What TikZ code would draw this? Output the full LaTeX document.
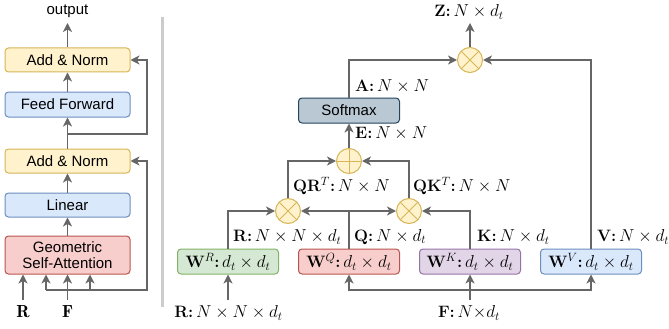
\documentclass[tikz,border=0pt]{standalone}
\usepackage{fontspec}
\setsansfont{Liberation Sans}
\usetikzlibrary{arrows.meta}
\definecolor{lgray}{HTML}{666666}
\definecolor{yfill}{HTML}{FFF2CC}\definecolor{ydraw}{HTML}{D6B656}
\definecolor{bfill}{HTML}{DAE8FC}\definecolor{bdraw}{HTML}{6C8EBF}
\definecolor{rfill}{HTML}{F8CECC}\definecolor{rdraw}{HTML}{B85450}
\definecolor{gfill}{HTML}{D5E8D4}\definecolor{gdraw}{HTML}{82B366}
\definecolor{pfill}{HTML}{E1D5E7}\definecolor{pdraw}{HTML}{9673A6}
\definecolor{sfill}{HTML}{BAC8D3}\definecolor{sdraw}{HTML}{23445D}
\newcommand\mlab{\fontsize{16.5}{19}\selectfont}
\newcommand\cln{\textbf{:}\,}
\tikzset{
  conn/.style={draw=lgray, line width=1.3pt},
  arr/.style={conn, -{Stealth[length=9pt,width=9pt,inset=2.5pt]}},
  blk/.style={draw, rounded corners=3.5pt, line width=1pt, inner sep=0pt, align=center,
    font=\sffamily\fontsize{15}{17}\selectfont},
  lbox/.style={blk, minimum width=125pt, minimum height=24pt},
  rbox/.style={blk, minimum width=101pt, minimum height=25pt, font=\mlab},
  opc/.style={circle, draw=ydraw, fill=yfill, line width=1pt, minimum size=25pt, inner sep=0pt},
  otimes/.style={opc, path picture={\draw[ydraw, line width=1pt]
     (path picture bounding box.north west) -- (path picture bounding box.south east)
     (path picture bounding box.north east) -- (path picture bounding box.south west);}},
  oplus/.style={opc, path picture={\draw[ydraw, line width=1pt]
     (path picture bounding box.north) -- (path picture bounding box.south)
     (path picture bounding box.east) -- (path picture bounding box.west);}},
  lab/.style={inner sep=0pt, font=\mlab},
}
\begin{document}
\begin{tikzpicture}[x=1pt,y=-1pt]
\useasboundingbox (0,0) rectangle (669,329);
% ---------- left panel ----------
\node[lbox, fill=yfill, draw=ydraw] (an2) at (67.5,60) {Add \& Norm};
\node[lbox, fill=bfill, draw=bdraw, minimum height=25pt] (ff) at (67.5,104.5) {Feed Forward};
\node[lbox, fill=yfill, draw=ydraw] (an1) at (67.5,161) {Add \& Norm};
\node[lbox, fill=bfill, draw=bdraw] (lin) at (67.5,205) {Linear};
\node[lbox, fill=rfill, draw=rdraw, minimum height=38pt] (gsa) at (67.5,255) {Geometric\\[-1pt]Self-Attention};
\node[inner sep=0pt, font=\sffamily\fontsize{15}{17}\selectfont, anchor=base] (outl) at (67.5,15) {output};
\coordinate (outc) at (67.5,23);
\draw[arr] (gsa.north) -- (lin.south);
\draw[arr] (lin.north) -- (an1.south);
\draw[arr] (an1.north) -- (ff.south);
\draw[arr] (ff.north) -- (an2.south);
\draw[arr] (an2.north) -- (outc);
\coordinate (j1) at (67.5,134);
\coordinate (r1) at (147,134);
\draw[arr] (j1) -- (r1) |- (an2.east);
\coordinate (b0) at (46,290);
\coordinate (b1) at (90,290);
\coordinate (b2) at (147,290);
\coordinate (fj) at (67.5,300);
\coordinate (rj) at (23,300);
\draw[arr] (b0) -- (b2) |- (an1.east);
\draw[arr] (b0) -- (b0 |- gsa.south);
\draw[arr] (b1) -- (b1 |- gsa.south);
\draw[arr] (rj) -- (rj |- gsa.south);
\draw[arr, line width=1.8pt] (fj) -- (gsa.south);
\node[inner sep=0pt, font=\fontsize{17.5}{20}\selectfont] (rl) at (23,312) {$\mathbf{R}$};
\node[inner sep=0pt, font=\fontsize{17.5}{20}\selectfont] (fl) at (67.5,312) {$\mathbf{F}$};
% separator
\draw[line width=3pt, draw=black!20] (162,17) -- (162,307);
% ---------- right panel ----------
\node[blk, fill=sfill, draw=sdraw, minimum width=101pt, minimum height=25pt] (sm) at (349,110.5) {Softmax};
\node[rbox, fill=gfill, draw=gdraw] (wr) at (228,261.5) {\textbf{W}$^R$\cln$d_t\times d_t$};
\node[rbox, fill=rfill, draw=rdraw] (wq) at (349,261.5) {\textbf{W}$^Q$\cln$d_t\times d_t$};
\node[rbox, fill=pfill, draw=pdraw] (wk) at (470,261.5) {\textbf{W}$^K$\cln$d_t\times d_t$};
\node[rbox, fill=bfill, draw=bdraw] (wv) at (591,261.5) {\textbf{W}$^V$\cln$d_t\times d_t$};
\node[otimes] (mz) at (470,60) {};
\node[oplus] (ad) at (349,161) {};
\node[otimes] (mr) at (288,211) {};
\node[otimes] (mk) at (409,211) {};
\coordinate (zc) at (470,23);
\node[lab, anchor=base] (zl) at (469,16.5) {\textbf{Z}\cln$N\times d_t$};
\draw[arr] (sm.north) |- (mz.west);
\draw[arr] (wv.north) |- (mz.east);
\draw[arr] (mz.north) -- (zc);
\draw[arr] (ad.north) -- (sm.south);
\draw[arr] (mr.north) |- (ad.west);
\draw[arr] (mk.north) |- (ad.east);
\draw[arr] (wr.north) |- (mr.west);
\draw[arr] (wq.north) |- (mr.east);
\draw[arr] (wq.north) |- (mk.west);
\draw[arr] (wk.north) |- (mk.east);
\coordinate (rin) at (228,300);
\coordinate (fin) at (470,300);
\coordinate (fh) at (470,290);
\draw[arr] (rin) -- (wr.south);
\draw[arr] (fin) -- (wk.south);
\draw[arr] (fh) -| (wq.south);
\draw[arr] (fh) -| (wv.south);
\node[lab] (rbl) at (228.5,313) {\textbf{R}\cln$N\times N\times d_t$};
\node[lab] (fbl) at (469,313) {\textbf{F}\cln$N{\times}d_t$};
\node[lab, anchor=west] (al) at (355,86) {\textbf{A}\cln$N\times N$};
\node[lab, anchor=west] (el) at (355,133) {\textbf{E}\cln$N\times N$};
\node[lab, anchor=west] (qrl) at (293,186) {\textbf{QR}$^T$\cln$N\times N$};
\node[lab, anchor=west] (qkl) at (413,186) {\textbf{QK}$^T$\cln$N\times N$};
\node[lab, anchor=west] (rl2) at (233,237) {\textbf{R}\cln$N\times N\times d_t$};
\node[lab, anchor=west] (ql) at (354,237) {\textbf{Q}\cln$N\times d_t$};
\node[lab, anchor=west] (kl) at (477,237) {\textbf{K}\cln$N\times d_t$};
\node[lab, anchor=west] (vl) at (597,237) {\textbf{V}\cln$N\times d_t$};
\end{tikzpicture}
\end{document}
